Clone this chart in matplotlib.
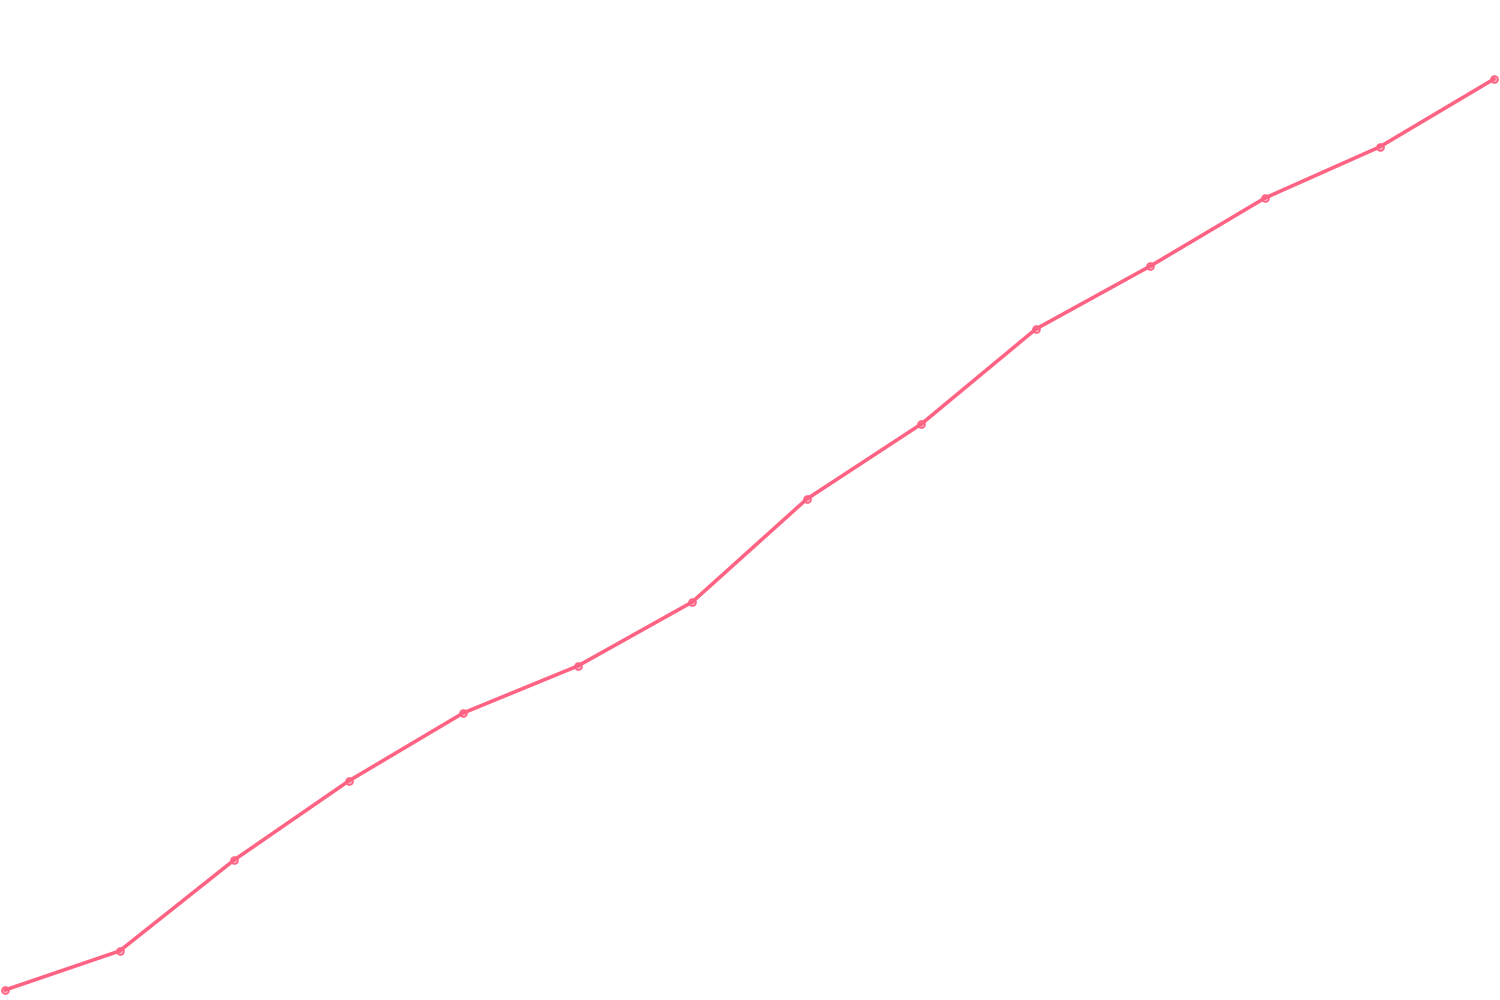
import matplotlib
matplotlib.use("Agg")
import matplotlib.pyplot as plt

# values (arbitrary units, no axes shown)
labels = list(range(14))
values = [10, 49, 140, 219, 287, 334, 398, 501, 576, 671, 734, 802, 853, 921]

line_color = "#ff6384"

fig = plt.figure(figsize=(15, 10), dpi=100)
ax = fig.add_axes([0, 0, 1, 1])
ax.plot(labels, values, color=line_color, linewidth=2.6,
        marker="o", markersize=5, markerfacecolor=(1, 0.39, 0.52, 0.5),
        markeredgecolor=line_color, markeredgewidth=1.2,
        solid_capstyle="round", solid_joinstyle="round")
ax.set_xlim(-0.044, 13.052)
ax.set_ylim(0, 1000)
ax.axis("off")

fig.savefig("out.png", dpi=100, facecolor="white")
